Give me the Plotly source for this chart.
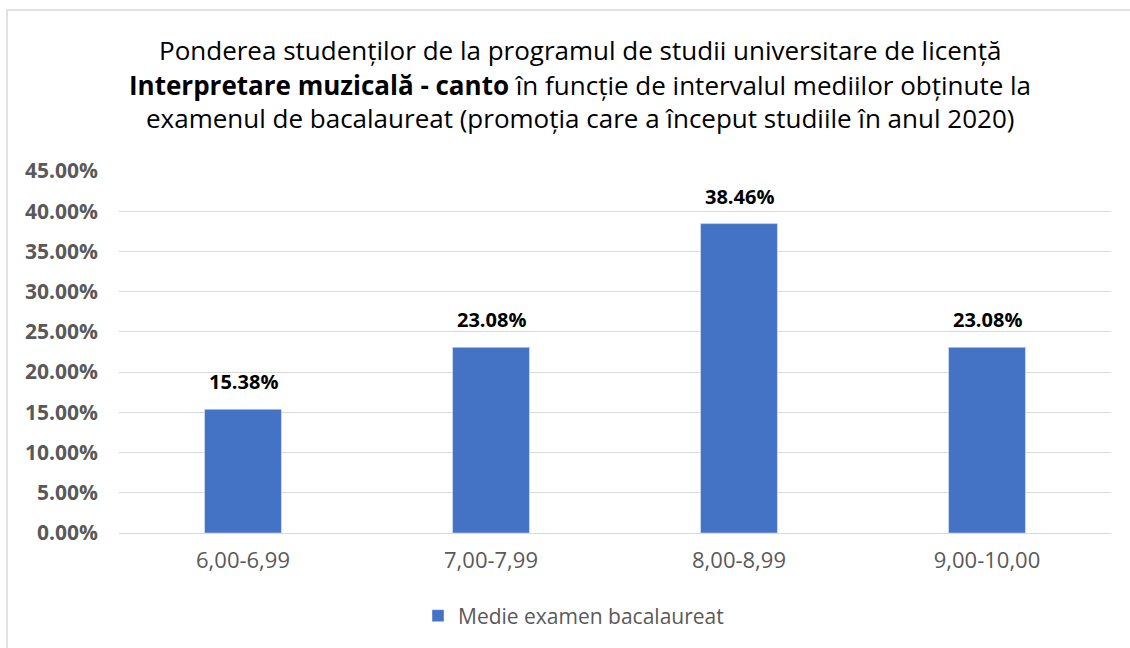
import plotly.graph_objects as go

categories = ["6,00-6,99", "7,00-7,99", "8,00-8,99", "9,00-10,00"]
values = [0.1538, 0.2308, 0.3846, 0.2308]
series_name = "Medie examen bacalaureat"
title_lines = [
    "Ponderea studenților de la programul de studii universitare de licență",
    "<b>Interpretare muzicală - canto</b> în funcție de intervalul mediilor obținute la",
    "examenul de bacalaureat (promoția care a început studiile în anul 2020)",
]

FONT = "Open Sans, sans-serif"
GRAY = "#595959"

fig = go.Figure()
fig.add_trace(go.Bar(
    x=categories, y=values, name=series_name,
    marker=dict(color="#4472c4"),
    hovertemplate="%{x}: %{y:.2%}<extra></extra>",
    showlegend=True,
))

for c, v in zip(categories, values):
    fig.add_annotation(
        x=c, y=v, text=f"<b>{v:.2%}</b>", showarrow=False,
        xanchor="center", yanchor="bottom", yshift=12,
        font=dict(family=FONT, size=20, color="#000000"),
    )

W, H = 1130, 648
L, R, T, B = 119, 19, 171, 115
pw, ph = W - L - R, H - T - B

def px(x):
    return (x - L) / pw

def py(y):
    return (H - B - y) / ph

fig.update_layout(
    width=W, height=H,
    margin=dict(l=L, r=R, t=T, b=B),
    paper_bgcolor="white", plot_bgcolor="white",
    bargap=0.69,
    font=dict(family=FONT, color=GRAY),
    xaxis=dict(
        tickfont=dict(family=FONT, size=22, color=GRAY),
        showgrid=False, showline=False, ticks="", ticklabelstandoff=12,
    ),
    yaxis=dict(
        range=[0, 0.45], dtick=0.05, tickformat=".2%",
        tickfont=dict(family=FONT, size=21, color=GRAY, weight="bold"),
        showgrid=True, gridcolor="#d9d9d9", gridwidth=1,
        zeroline=True, zerolinecolor="#d9d9d9", zerolinewidth=1,
        ticks="", ticklabelstandoff=20,
    ),
    legend=dict(
        orientation="h", xanchor="left", yanchor="middle",
        x=px(418), y=py(616),
        font=dict(family=FONT, size=21, color=GRAY),
    ),
    shapes=[dict(
        type="rect", xref="paper", yref="paper",
        x0=px(7), x1=px(1140), y0=py(660), y1=py(10),
        line=dict(color="#d9d9d9", width=1.5), fillcolor="rgba(0,0,0,0)",
        layer="below",
    )],
)

for i, (line, yc) in enumerate(zip(title_lines, [50, 85, 118])):
    fig.add_annotation(
        text=line, xref="paper", yref="paper", x=px(580), y=py(yc),
        xanchor="center", yanchor="middle", showarrow=False,
        font=dict(family=FONT, size=26, color="#000000"),
    )

fig.write_html("out.html", config={"displayModeBar": False},
               post_script="document.body.style.margin='0px';")
